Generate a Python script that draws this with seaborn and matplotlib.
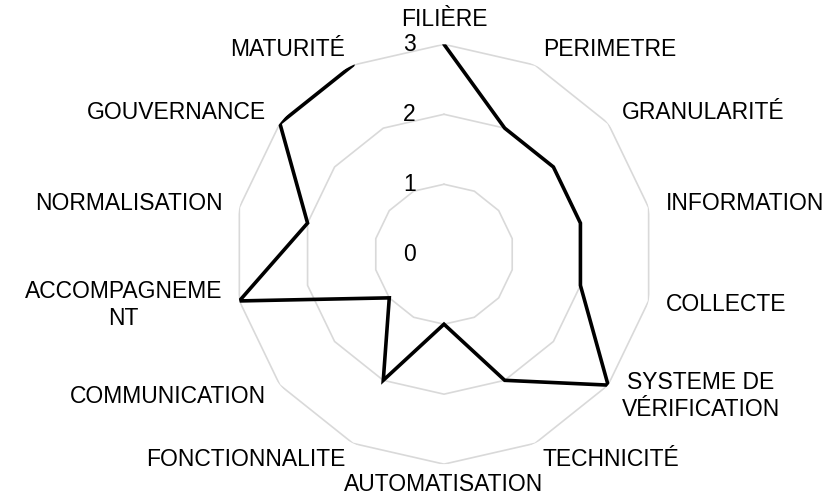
import numpy as np
import pandas as pd
import matplotlib
matplotlib.use("Agg")
import matplotlib.pyplot as plt
import seaborn as sns

# Data (clockwise from the top)
categories = ["FILIÈRE", "PERIMETRE", "GRANULARITÉ", "INFORMATION", "COLLECTE",
              "SYSTEME DE\nVÉRIFICATION", "TECHNICITÉ", "AUTOMATISATION",
              "FONCTIONNALITE", "COMMUNICATION", "ACCOMPAGNEME\nNT",
              "NORMALISATION", "GOUVERNANCE", "MATURITÉ"]
scores = [3, 2, 2, 2, 2, 3, 2, 1, 2, 1, 3, 2, 3, 3]
levels = [0, 1, 2, 3]

sns.set_style("white")
plt.rcParams['font.family'] = ['Liberation Sans', 'DejaVu Sans']
plt.rcParams['text.color'] = 'black'

n = len(categories)
theta = np.linspace(0, 2 * np.pi, n, endpoint=False)
df = pd.DataFrame({'theta': np.append(theta, theta[0]),
                   'score': scores + scores[:1]})

fig = plt.figure(figsize=(8.33, 4.98), dpi=100)
ax = fig.add_axes([0.281, 0.068, 0.504, 0.843], projection='polar')
ax.set_theta_zero_location('N')
ax.set_theta_direction(-1)

# polygon grid
for lv in levels[1:]:
    ax.plot(df['theta'], [lv] * len(df), color='#d9d9d9', lw=1.2, zorder=1)

sns.lineplot(data=df, x='theta', y='score', sort=False, color='black',
             lw=2.6, ax=ax, zorder=3, solid_joinstyle='miter')

ax.set_ylim(0, 3)
ax.grid(False)
ax.spines['polar'].set_visible(False)
ax.set_xticks([])
ax.set_yticks([])
ax.set_xlabel('')
ax.set_ylabel('')

# category labels
fs = 16.5
for t, lab in zip(theta, categories):
    s = np.sin(t)
    if abs(s) < 0.1:
        r = 3.36 if np.cos(t) > 0 else 3.29
        ax.text(t, r, lab, ha='center', va='center', fontsize=fs)
    else:
        ax.text(t, 3.25, lab, ha='left' if s > 0 else 'right', va='center',
                fontsize=fs, multialignment='center')

# radial value labels
for lv in levels:
    ax.annotate(str(lv), xy=(0, lv), xytext=(-25, 0), textcoords='offset points',
                ha='center', va='center', fontsize=fs)

plt.savefig("out.png", dpi=100)
